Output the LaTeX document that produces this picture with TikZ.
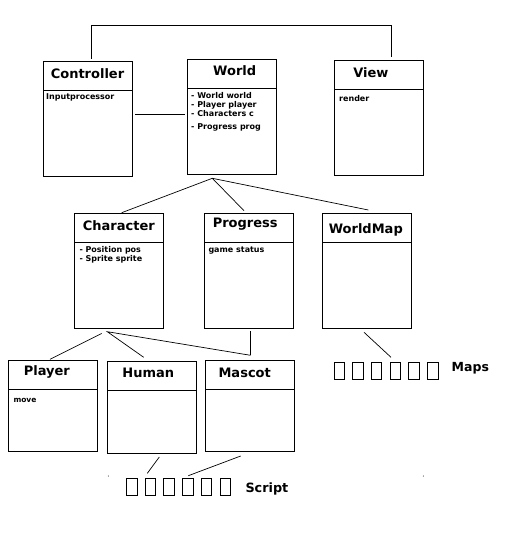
\documentclass[tikz,border=0pt]{standalone}
\usepackage{fontspec}
\setmainfont{DejaVu Sans}
\tikzset{
	klasse/.style={draw, line width=1pt, anchor=north west, minimum width=89pt, inner sep=0pt},
	titel/.style={font=\fontsize{13}{15}\selectfont\bfseries, anchor=base, inner sep=0pt},
	attr/.style={font=\fontsize{8}{9.3}\selectfont\bfseries, anchor=base west, inner sep=0pt},
	verb/.style={line width=0.7pt},
	tofu/.style={draw, line width=0.8pt, anchor=north west, minimum width=10.5pt, minimum height=17pt, inner sep=0pt}
}
\begin{document}
\begin{tikzpicture}[x=1pt,y=-1pt]
				\useasboundingbox (0,0) rectangle (531,534);
				\node[klasse, minimum height=115pt] (ctrl) at (43.3,61.3) {};
				\node[klasse, minimum height=115pt] (world) at (187.3,59.3) {};
				\node[klasse, minimum height=115pt] (view) at (334.3,60.3) {};
				\node[klasse, minimum height=115pt] (chr) at (74.3,213.3) {};
				\node[klasse, minimum height=115pt] (prog) at (204.3,213.3) {};
				\node[klasse, minimum height=115pt] (wmap) at (322.3,213.3) {};
				\node[klasse, minimum height=91pt] (player) at (8.3,360.3) {};
				\node[klasse, minimum height=91.4pt] (human) at (107.3,361.3) {};
				\node[klasse, minimum height=91pt] (mascot) at (205.3,360.3) {};
				\foreach \k in {ctrl,world,view,chr,prog,wmap,player,human,mascot}
					\draw[line width=1pt] ([yshift=-29pt]\k.north west) -- ([yshift=-29pt]\k.north east);
				\node[titel] (ctrlT) at (87.5,78.3) {Controller};
				\node[titel] (worldT) at (234.7,76) {World};
				\node[titel] (viewT) at (370.8,78) {View};
				\node[titel] (chrT) at (118.8,230) {Character};
				\node[titel] (progT) at (245.2,227.7) {Progress};
				\node[titel] (wmapT) at (365.8,233.3) {WorldMap};
				\node[titel] (playerT) at (46.8,375.7) {Player};
				\node[titel] (humanT) at (148.3,377.7) {Human};
				\node[titel] (mascotT) at (244.7,377.7) {Mascot};
				\node[attr] (ctrlA) at (46,100) {Inputprocessor};
				\node[attr] (worldA1) at (191,98.3) {- World world};
				\node[attr] (worldA2) at (191,107.3) {- Player player};
				\node[attr] (worldA3) at (191,116.7) {- Characters c};
				\node[attr] (worldA4) at (191,129.3) {- Progress prog};
				\node[attr] (viewA) at (339,101.7) {render};
				\node[attr] (chrA1) at (79.3,252.7) {- Position pos};
				\node[attr] (chrA2) at (79.3,261.7) {- Sprite sprite};
				\node[attr] (progA) at (208.3,252.7) {game status};
				\node[attr, font=\fontsize{7.5}{9}\selectfont\bfseries] (playerA) at (13.3,402.7) {move};
				\foreach \i in {0,...,5}
					\node[tofu] (s\i) at (126+\i*18.7,478.3) {};
				\node[titel, anchor=base west, font=\fontsize{12.8}{15}\selectfont\bfseries] (script) at (245.3,492.7) {Script};
				\foreach \i in {0,...,5}
					\node[tofu] (m\i) at (333.5+\i*18.7,362.3) {};
				\node[titel, anchor=base west, font=\fontsize{12.5}{15}\selectfont\bfseries] (maps) at (451.5,371.7) {Maps};
				\coordinate (cv1) at (91,58.7);
				\coordinate (cv2) at (391.3,56.7);
				\coordinate (cvtop) at (0,25.7);
				\draw[verb] (cv1) -- (cv1 |- cvtop) -- (cv2 |- cvtop) -- (cv2);
				\coordinate (cw1) at (135,114.3);
				\coordinate (cw2) at (185,114.3);
				\draw[verb] (cw1) -- (cw2);
				\coordinate (wh) at (212.3,178.3);
				\coordinate (whc) at (121.7,212.7);
				\coordinate (whp) at (244,210.7);
				\coordinate (whm) at (368.3,210);
				\draw[verb] (whc) -- (wh) -- (whm);
				\draw[verb] (wh) -- (whp);
				\coordinate (ch1) at (101.7,333.5);
				\coordinate (ch2) at (107.3,331.7);
				\coordinate (chp) at (50,359.3);
				\coordinate (chh) at (143.7,357.3);
				\coordinate (chm) at (250.5,355.3);
				\coordinate (pm) at (250.5,331);
				\draw[verb] (ch1) -- (chp);
				\draw[verb] (chh) -- (ch2) -- (chm);
				\draw[verb] (pm) -- (chm);
				\coordinate (wm1) at (364,332.3);
				\coordinate (wm2) at (391,357.3);
				\draw[verb] (wm1) -- (wm2);
				\coordinate (hs1) at (159.3,457);
				\coordinate (hs2) at (147.3,473.3);
				\draw[verb] (hs1) -- (hs2);
				\coordinate (ms1) at (240.7,456);
				\coordinate (ms2) at (188.3,475.7);
				\draw[verb] (ms1) -- (ms2);
				\fill (108.3,476) circle (0.5pt);
				\fill (423.3,476) circle (0.5pt);
\end{tikzpicture}
\end{document}
